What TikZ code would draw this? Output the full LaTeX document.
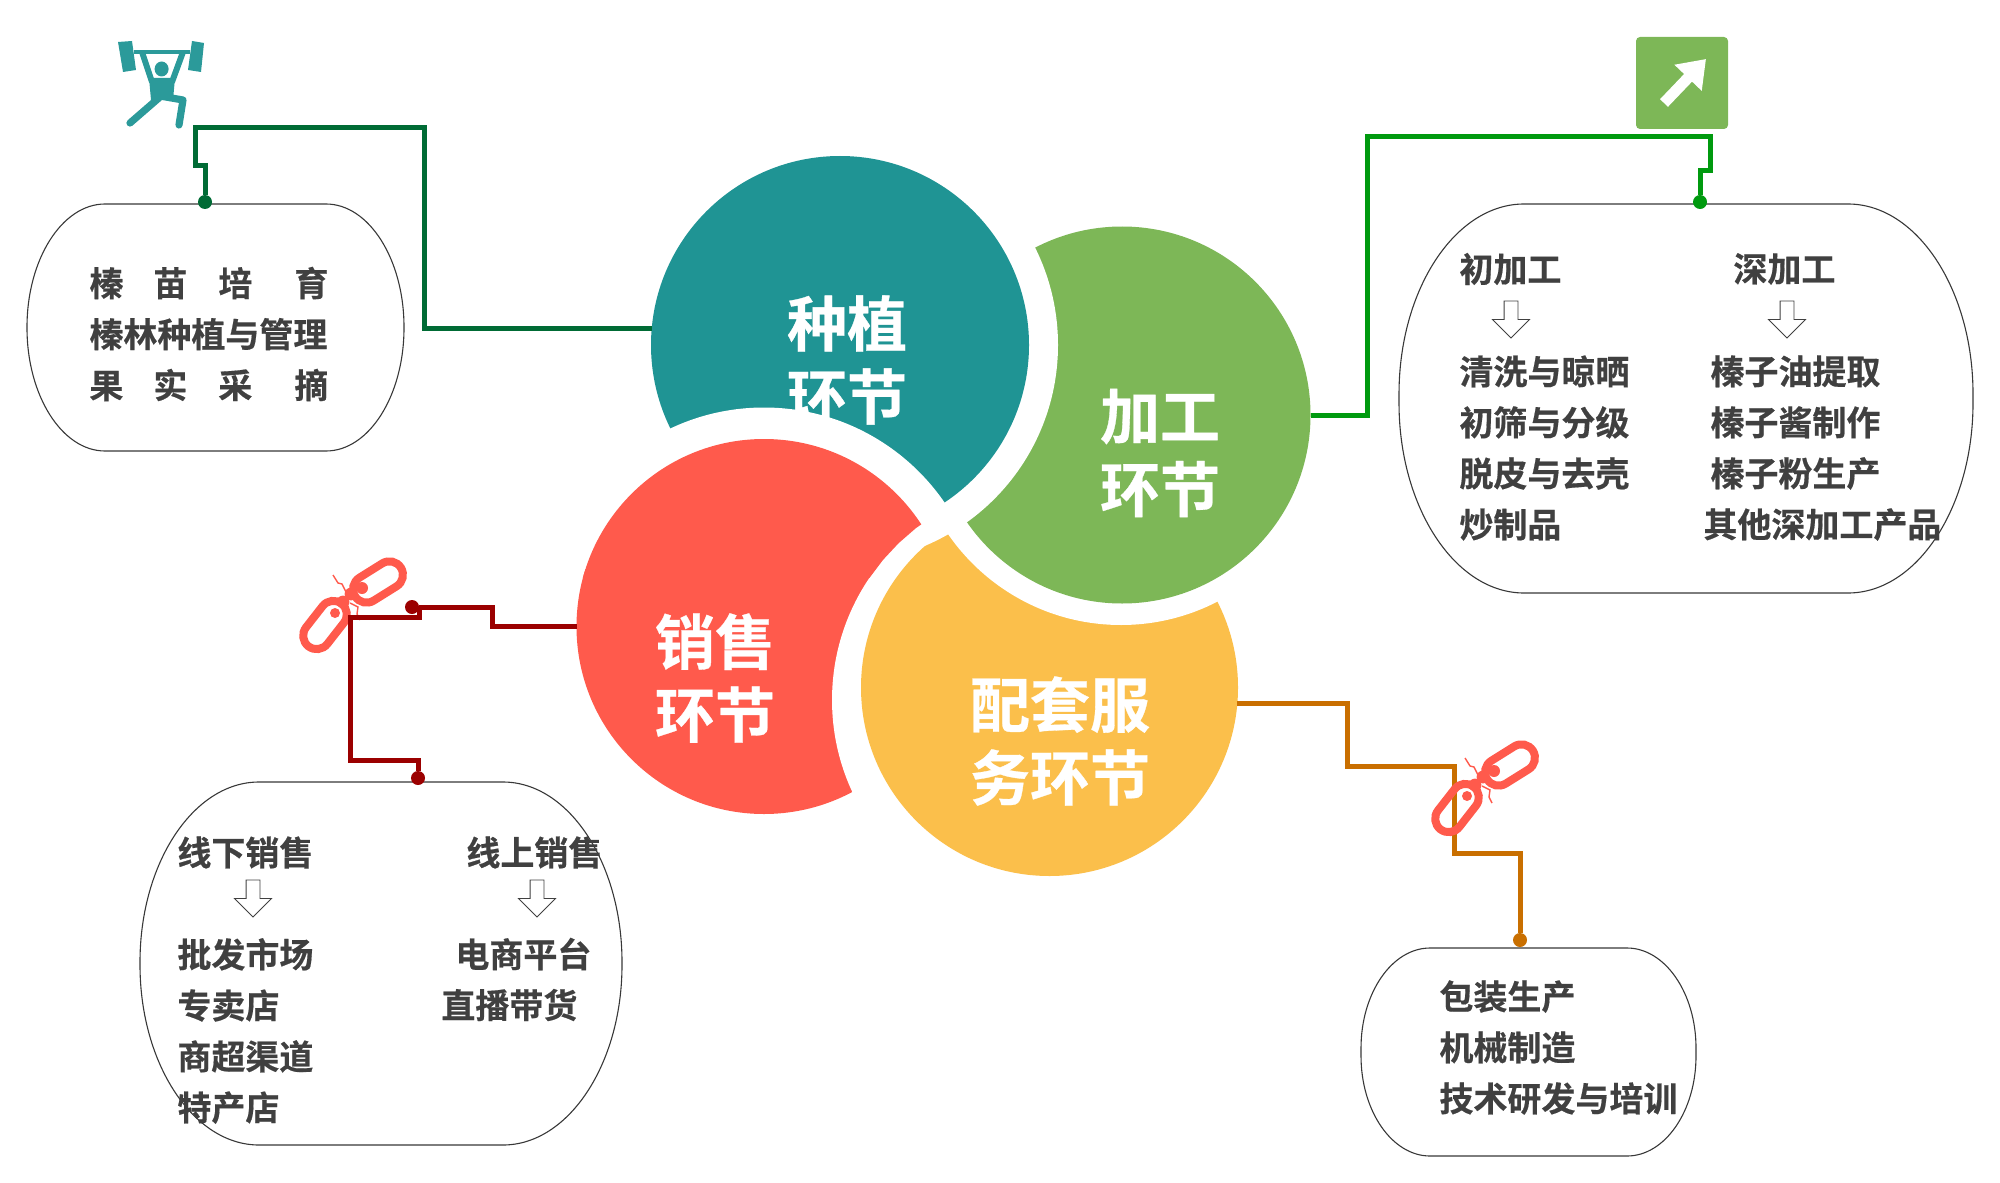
\documentclass[tikz,border=0pt]{standalone}
\usepackage{fontspec}
\setmainfont{Noto Sans CJK SC}[BoldFont=* Bold,BoldFeatures={FakeBold=0.5}]
\usepackage{xcolor}
\usetikzlibrary{calc}
\usetikzlibrary{arrows.meta}
\usetikzlibrary{shapes.arrows}
\usetikzlibrary{shapes.misc}

\definecolor{tealdisc}{HTML}{1F9494}
\definecolor{greendisc}{HTML}{7DB757}
\definecolor{reddisc}{HTML}{FF5A4C}
\definecolor{yellowdisc}{HTML}{FBBF4B}
\definecolor{bodytext}{HTML}{404040}
\definecolor{linkteal}{HTML}{006B35}
\definecolor{linkgreen}{HTML}{009A0F}
\definecolor{linkred}{HTML}{9B0000}
\definecolor{linkorange}{HTML}{C96F00}
\definecolor{iconteal}{HTML}{2B9A9A}

% outline of a text area: name, x radius, y radius of the corners
\newcommand{\drawblob}[3]{%
  \draw[blob line] ($(#1.north west)+(#2,0)$) -- ($(#1.north east)+(-#2,0)$)
    .. controls ($(#1.north east)+(-.45*#2,0)$) and ($(#1.north east)+(0,.45*#3)$) .. ($(#1.north east)+(0,#3)$)
    -- ($(#1.south east)+(0,-#3)$)
    .. controls ($(#1.south east)+(0,-.45*#3)$) and ($(#1.south east)+(-.45*#2,0)$) .. ($(#1.south east)+(-#2,0)$)
    -- ($(#1.south west)+(#2,0)$)
    .. controls ($(#1.south west)+(.45*#2,0)$) and ($(#1.south west)+(0,-.45*#3)$) .. ($(#1.south west)+(0,-#3)$)
    -- ($(#1.north west)+(0,#3)$)
    .. controls ($(#1.north west)+(0,.45*#3)$) and ($(#1.north west)+(.45*#2,0)$) .. cycle;}

\begin{document}
\begin{tikzpicture}[x=0.5pt,y=-0.5pt,
      disc/.style={circle,fill=#1,inner sep=0pt,outer sep=0pt,minimum size=188.5pt},
      ring/.style={circle,fill=white,inner sep=0pt,outer sep=0pt,minimum size=#1},
      stage label/.style={text=white,align=center,inner sep=0pt,
        font=\fontsize{30}{36.5}\selectfont\bfseries},
      blob area/.style={inner sep=0pt,outer sep=0pt},
      blob line/.style={draw=black!78,line width=0.55pt},
      body text/.style={text=bodytext,align=left,anchor=west,inner sep=0pt,
        font=\fontsize{17}{25.5}\selectfont\bfseries},
      head arrow/.style={single arrow,draw=bodytext,line width=0.45pt,fill=white,
        shape border rotate=270,minimum width=18pt,minimum height=18.5pt,
        single arrow head extend=5.75pt,single arrow head indent=0pt,inner sep=3.25pt},
      end dot/.style={circle,inner sep=0pt,outer sep=0pt,minimum size=7pt,fill=#1},
      link line/.style={draw=#1,line width=2.5pt,miter limit=4},
      chain/.style={rounded rectangle,draw=reddisc,line width=4pt,inner sep=0pt,
        minimum width=27pt,minimum height=13.5pt},
      broken link/.pic={
        \node[chain,rotate=32] (up) at (28,-18) {};
        \node[chain,rotate=52] (low) at (-25,25) {};
        \fill[reddisc] (12,-12) circle[radius=3pt];
        \fill[reddisc] (1,-6) circle[radius=3.2pt];
        \fill[reddisc] (-15,13) circle[radius=2.5pt];
        \fill[reddisc] (-7,2) circle[radius=3.2pt];
        \draw[reddisc,line width=0.7pt] (-17,-25) -- (-12,-17) -- (-8,-16) -- (-4,-8);
        \draw[reddisc,line width=0.7pt] (0,3) -- (8,7) -- (7,14) -- (10,20);
      }
      ]
      \useasboundingbox (0,0) rectangle (2000,1182);

      % the four stages, each cut by the next one
      \node[disc=reddisc,minimum size=187.5pt] (sales) at (764,626.5) {};
      \node[ring=218pt] (ringyellow) at (1050,700) {};
      \node[disc=yellowdisc] (service) at (1049.5,687.5) {};
      \node[stage label] (servicetext) at (1060,741) {配套服\\务环节};
      \node[ring=210pt] (ringgreen) at (1121,415) {};
      \node[disc=greendisc,minimum size=188.5pt] (process) at (1122,415) {};
      \node[stage label] (processtext) at (1160,453) {加工\\环节};
      \node[ring=218pt] (ringteal) at (840,345) {};
      \node[disc=tealdisc,minimum size=189pt] (plant) at (840,345) {};
      \node[stage label] (planttext) at (847,360) {种植\\环节};
      \begin{scope}
        \clip (560,300) -- (955,300) -- (955,505) -- (ringyellow.122) -- (ringyellow.128)
          -- (ringyellow.134) -- (ringyellow.140) -- (ringyellow.143) -- (560,569) -- cycle;
        \node[ring=219pt] (ringred) at (764,626.5) {};
      \end{scope}
      \begin{scope}
        \clip (560,300) -- (955,300) -- (955,505) -- (ringyellow.122) -- (ringyellow.128)
          -- (ringyellow.134) -- (ringyellow.140) -- (ringyellow.146) -- (560,578) -- cycle;
        \node[disc=reddisc,minimum size=187.5pt] (salestop) at (764,626.5) {};
      \end{scope}
      \node[stage label] (salestext) at (715,678) {销售\\环节};

      % text areas
      \node[blob area,minimum width=188.5pt,minimum height=123.5pt] (areaplant) at (215.5,327.5) {};
      \node[blob area,minimum width=287pt,minimum height=194.5pt] (areaprocess) at (1686,398.5) {};
      \node[blob area,minimum width=241pt,minimum height=181.5pt] (areasales) at (381,963.5) {};
      \node[blob area,minimum width=167.5pt,minimum height=104pt] (areaservice) at (1528.5,1052) {};
      \drawblob{areaplant}{78}{123}
      \drawblob{areaprocess}{125}{190}
      \drawblob{areasales}{119}{180}
      \drawblob{areaservice}{69}{100}

      \node[body text] (plantrows) at (89,334) {榛\hspace{15pt}苗\hspace{15.5pt}培\hspace{21pt}育\\榛林种植与管理\\果\hspace{15pt}实\hspace{15.5pt}采\hspace{21pt}摘};

      \node[body text] (rawhead) at (1459,269) {初加工};
      \node[body text] (deephead) at (1733,269) {深加工};
      \node[head arrow] (rawarrow) at (1511,316) {};
      \node[head arrow] (deeparrow) at (1787,316) {};
      \node[body text] (rawrows) at (1459,448) {清洗与晾晒\\初筛与分级\\脱皮与去壳\\炒制品};
      \node[body text] (deeprows) at (1710,422.5) {榛子油提取\\榛子酱制作\\榛子粉生产};
      \node[body text] (deeplast) at (1703,524.5) {其他深加工产品};

      \node[body text] (offhead) at (177,852.5) {线下销售};
      \node[body text] (onhead) at (466,852.5) {线上销售};
      \node[head arrow] (offarrow) at (253,895) {};
      \node[head arrow] (onarrow) at (537,895) {};
      \node[body text] (offrows) at (177,1031) {批发市场\\专卖店\\商超渠道\\特产店};
      \node[body text] (onfirst) at (455,954) {电商平台};
      \node[body text] (onsecond) at (441,1005) {直播带货};

      \node[body text] (servicerows) at (1439,1047.5) {包装生产\\机械制造\\技术研发与培训};

      % icons
      \fill[iconteal] (118,42) -- (132,41) -- (136,70) -- (123,72) -- cycle;
      \fill[iconteal] (192,41) -- (204,43) -- (201,72) -- (188,70) -- cycle;
      \draw[iconteal,line width=2pt] (134,52) -- (190,52);
      \draw[iconteal,line width=3pt] (142,52) -- (152,82);
      \draw[iconteal,line width=3pt] (183,52) -- (172,82);
      \fill[iconteal] (161.6,69) ellipse[x radius=7,y radius=7.5];
      \fill[iconteal] (149,78) -- (175,78) -- (173,100) -- (151,100) -- cycle;
      \draw[iconteal,line width=3.6pt,line cap=round] (160,97) -- (130,123);
      \draw[iconteal,line width=3.6pt,line cap=round,line join=round] (160,96) -- (183,100) -- (179,125);

      \node[fill=greendisc,rounded corners=2pt,minimum width=46pt,minimum height=46pt,inner sep=0pt] (upbox) at (1682,83) {};
      \draw[white,line width=5.5pt,-{Triangle[length=13pt,width=18pt]}] (1664,103) -- (1706,59);

      \pic at (350,600) {broken link};

      % connectors
      \node[end dot=linkteal] (dotplant) at (205,202) {};
      \node[end dot=linkgreen] (dotprocess) at (1700,202) {};
      \node[end dot=linkred] (dotsalesup) at (412,607) {};
      \node[end dot=linkred] (dotsales) at (418,778) {};
      \node[end dot=linkorange] (dotservice) at (1520,940) {};

      \draw[link line=linkteal] (plant.175) -| (424,128) -- (195,128) -- (195,166) -- (205,166) -- (dotplant);
      \draw[link line=linkgreen] (process.east) -| (1367,137) -- (1710,137) -- (1710,171) -- (1700,171) -- (dotprocess);
      \draw[link line=linkred] (sales.west) -| (492,607) -- (dotsalesup);
      \draw[link line=linkred] (dotsalesup) -- (419,607) -- (419,617) -- (350,617) -- (350,760) -- (418,760) -- (dotsales);
      \draw[link line=linkorange] (service.-5) -| (1347,766) -- (1454,766) -- (1454,853) -- (1520,853) -- (dotservice);

      \pic at (1482,783) {broken link};
    \end{tikzpicture}
\end{document}
